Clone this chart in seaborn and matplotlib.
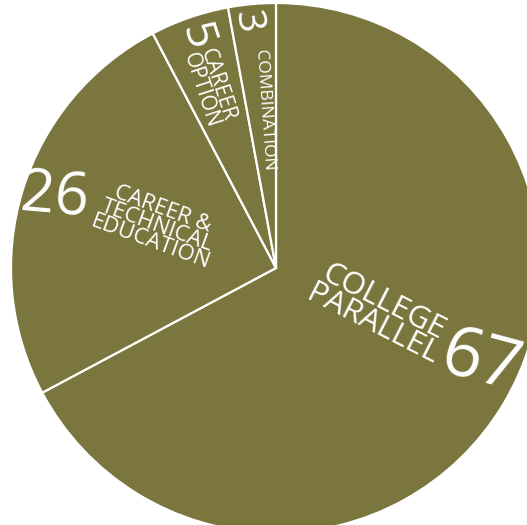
import matplotlib
matplotlib.use("Agg")
import matplotlib.pyplot as plt
import seaborn as sns

sns.set_theme(style="white")
plt.rcParams['font.family'] = ['Open Sans', 'DejaVu Sans']

categories = ["COLLEGE\nPARALLEL", "CAREER &\nTECHNICAL\nEDUCATION", "CAREER\nOPTION", "COMBINATION"]
value_labels = ["67", "26", "5", "3"]
shares = [67.2, 25.1, 4.8, 2.9]

color = "#7a763e"
W, H = 527, 525
fig = plt.figure(figsize=(W / 100, H / 100), dpi=100)
cx, cy, r = 276, 268, 265
ax = fig.add_axes([(cx - r) / W, (H - cy - r) / H, 2 * r / W, 2 * r / H])
ax.pie(shares, colors=[color] * len(shares), startangle=90, counterclock=False,
       radius=1, wedgeprops=dict(edgecolor="white", linewidth=1.6))
ax.set_xlim(-1, 1)
ax.set_ylim(-1, 1)
ax.set_aspect("equal")
ax.axis("off")

def d(px, py):
    return ((px - cx) / r, (cy - py) / r)

# (x px, y px, rotation, fontsize)
cat_pos = [(378, 313, -27, 22.5), (157, 226, -20, 16), (209, 88, -72, 15), (264, 110, -86, 12.5)]
val_pos = [(480, 364, -15, 50), (54, 198, -5, 43), (196, 37, -72, 32), (247, 22, -82, 28)]
for i in range(len(categories)):
    x, y, rot, fs = cat_pos[i]
    ax.text(*d(x, y), categories[i], color="white", fontsize=fs, rotation=rot,
            ha="center", va="center", linespacing=0.78, rotation_mode="anchor")
    x, y, rot, fs = val_pos[i]
    ax.text(*d(x, y), value_labels[i], color="white", fontsize=fs, rotation=rot,
            ha="center", va="center", rotation_mode="anchor")

fig.savefig("out.png", dpi=100, facecolor="white")
